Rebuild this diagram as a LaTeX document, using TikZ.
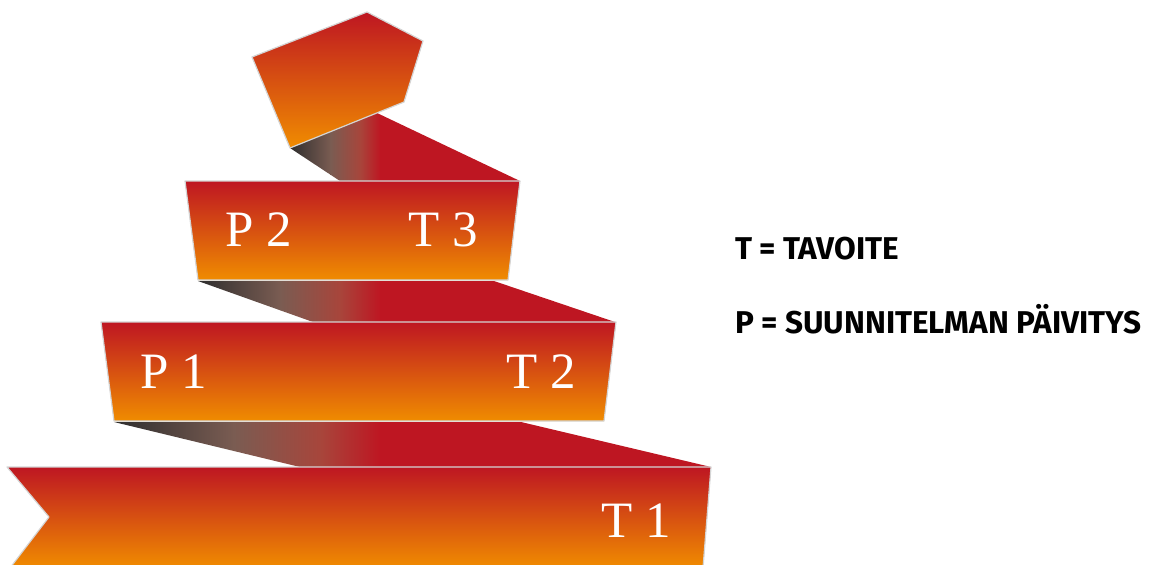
\documentclass[tikz,border=0pt]{standalone}
\usepackage{fontspec}
\newfontfamily\labelfont{Liberation Serif}
\newfontfamily\legendfont{Fira Sans}
\definecolor{rib}{HTML}{BE1622}
\definecolor{org}{HTML}{F08C00}
\definecolor{dk}{HTML}{2E2E2E}
\definecolor{gb}{HTML}{7A5C52}
\definecolor{br}{HTML}{A8453B}
\definecolor{edgec}{HTML}{D4D4D4}
\tikzset{
  boxstyle/.style={top color=rib, bottom color=org, draw=edgec, line width=1.2pt, line join=round},
  lab/.style={text=white, font=\labelfont\fontsize{51}{51}\selectfont, inner sep=0pt, anchor=base west},
  leg/.style={text=black, font=\legendfont\bfseries\fontsize{31.5}{31.5}\selectfont, inner sep=0pt, anchor=base west}
}
% #1 left x, #2 top y, #3 bottom y, #4 right limit
\newcommand\linkfill[4]{%
  \pgfmathsetmacro\xa{#1+0.45*(380-#1)}%
  \shade[left color=dk, right color=gb] (#1,#2) rectangle (\xa+0.5,#3);
  \shade[left color=gb, right color=br] (\xa,#2) rectangle ({#1+0.78*(380-#1)+0.5},#3);
  \shade[left color=br, right color=rib] ({#1+0.78*(380-#1)},#2) rectangle (380.5,#3);
  \fill[rib] (380,#2) rectangle (#4,#3);
}
\begin{document}
\begin{tikzpicture}[x=1pt,y=-1pt]
\useasboundingbox (0,0) rectangle (1157,565);
% connector 3
\begin{scope}
\clip (290,148) -- (377,113) -- (520,181) -- (340,181) -- cycle;
\linkfill{290}{100}{190}{530}
\end{scope}
% connector 2
\begin{scope}
\clip (198,281) -- (494,281) -- (615,322) -- (313,322) -- cycle;
\linkfill{198}{270}{330}{630}
\end{scope}
% connector 1
\begin{scope}
\clip (114,422) -- (521,422) -- (711,467) -- (300,467) -- cycle;
\linkfill{114}{410}{475}{720}
\end{scope}
% boxes
\path[boxstyle] (185,181) -- (520,181) -- (508,280) -- (198,280) -- cycle;
\path[boxstyle] (101,322) -- (616,322) -- (604,421) -- (114,421) -- cycle;
\path[boxstyle] (7,467) -- (711,467) -- (703,568) -- (10,568) -- (49,517) -- cycle;
% pentagon
\path[boxstyle] (367,12) -- (423,41) -- (404,102) -- (290,148) -- (252,57) -- cycle;
% labels
\node[lab] (p2) at (225,246) {P 2};
\node[lab] (t3) at (408,246) {T 3};
\node[lab] (p1) at (140,388) {P 1};
\node[lab] (t2) at (506,388) {T 2};
\node[lab] (t1) at (601,537) {T 1};
% legend
\node[leg] (lt) at (735,259) {T = TAVOITE};
\node[leg] (lp) at (735,333) {P = SUUNNITELMAN PÄIVITYS};
\end{tikzpicture}
\end{document}
